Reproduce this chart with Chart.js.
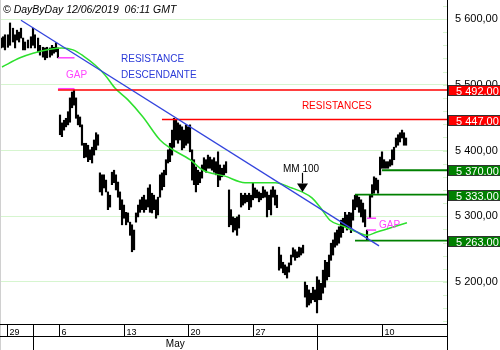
<!DOCTYPE html>
<html>
<head>
<meta charset="utf-8">
<script src="https://cdn.jsdelivr.net/npm/chart.js@4.4.1/dist/chart.umd.min.js"></script>
<style>
  html, body { margin: 0; padding: 0; background: #fff; }
  #wrap { width: 500px; height: 350px; position: relative; }
</style>
</head>
<body>
<div id="wrap"><canvas id="chartCac"></canvas></div>
<script>
// time axis: trading days since Mon 29 Apr 2019 (0 = 29 Apr open)
var barT = [
  -0.49,-0.33,-0.18,0.05,0.21,0.44,0.60,0.75,0.91,1.06,1.22,1.37,1.60,1.83,1.99,2.14,2.38,2.53,2.76,2.92,3.07,3.30,3.46,3.61,3.77,3.92,
  4.08,4.23,4.39,4.54,4.70,4.85,5.01,5.16,5.32,5.47,5.63,5.78,5.94,6.09,6.25,6.40,6.56,6.71,6.87,7.02,
  7.17,7.33,7.48,7.64,7.79,7.95,8.10,8.26,8.41,8.57,8.72,8.88,9.03,9.19,9.34,9.50,9.65,9.81,9.96,10.12,10.27,10.43,10.58,10.74,10.89,11.04,11.20,11.35,11.51,11.66,11.82,11.97,12.13,12.28,12.44,12.59,12.75,12.90,13.06,13.21,13.37,13.52,13.68,13.83,13.99,14.14,14.30,14.45,14.60,14.76,14.91,15.07,15.22,15.38,15.53,15.69,15.84,16.00,16.15,16.31,16.46,16.62,16.77,16.93,
  17.16,17.31,17.47,17.62,17.78,17.93,18.09,18.24,18.40,18.55,18.71,18.86,19.01,19.17,19.32,19.48,19.63,19.79,19.94,20.10,20.25,20.41,20.56,20.72,20.87,
  21.03,21.18,21.34,21.49,21.65,21.80,21.96,22.11,22.27,22.42,22.58,22.73,22.89,
  23.04,23.19,23.35,23.50,23.66,23.81,23.97,24.12,24.28,24.43,24.59,24.74,24.90,25.05,25.21,25.36,25.52,25.67,25.83,25.98,26.14,26.29,26.45,26.60,26.76,26.91,27.07,27.22,27.38,27.53,27.69,27.84,
  28.07,28.23,28.38,28.54,28.69,28.85,29.00,29.16,29.31,29.47,29.62,29.78,29.93,30.08,30.24,30.39,30.55,30.70,30.86
];
var barHigh = [
  5571,5573,5576,5576,5594,5586,5576,5583,5580,5586,5571,5565,5568,5573,5586,5576,5571,5560,5557,5556,5557,5556,5560,5557,5564,5556,
  5454,5442,5446,5449,5459,5480,5489,5492,5480,5454,5451,5439,5411,5411,5408,5401,5405,5416,5427,5424,
  5366,5363,5363,5355,5337,5332,5367,5370,5363,5352,5337,5325,5317,5306,5305,5291,5287,5279,5305,5317,5325,5329,5332,5325,5343,5348,5335,5332,5325,5329,5363,5366,5370,5386,5401,5411,5431,5449,5446,5442,5439,5436,5431,5439,5436,5439,5401,5386,5375,5370,5367,5378,5389,5386,5393,5390,5386,5389,5383,5398,5378,5373,5378,5383,
  5340,5310,5299,5297,5299,5302,5335,5332,5335,5332,5335,5332,5351,5343,5340,5337,5335,5345,5340,5337,5332,5340,5345,5340,5332,
  5253,5241,5230,5226,5223,5229,5241,5252,5249,5246,5253,5252,5256,
  5200,5195,5188,5183,5192,5188,5208,5203,5198,5218,5233,5230,5241,5259,5264,5275,5279,5284,5294,5297,5306,5302,5306,5305,5325,5332,5332,5329,5325,5320,5310,5279,
  5332,5348,5360,5358,5355,5390,5398,5386,5383,5383,5386,5401,5405,5419,5424,5427,5431,5427,5419
];
var barLow = [
  5556,5557,5553,5557,5560,5565,5556,5568,5565,5571,5553,5553,5556,5556,5560,5556,5550,5545,5542,5538,5541,5542,5545,5548,5550,5541,
  5424,5421,5431,5436,5439,5443,5465,5469,5449,5439,5436,5408,5389,5390,5383,5386,5381,5393,5401,5408,
  5337,5332,5343,5337,5310,5314,5348,5351,5340,5329,5310,5287,5297,5287,5291,5271,5246,5249,5291,5299,5306,5310,5306,5310,5314,5306,5305,5310,5297,5302,5329,5340,5345,5363,5381,5383,5393,5405,5416,5411,5416,5401,5404,5408,5411,5398,5355,5348,5337,5348,5351,5358,5370,5367,5373,5373,5370,5367,5363,5345,5355,5360,5363,5366,
  5284,5287,5276,5279,5271,5282,5314,5317,5320,5322,5310,5314,5325,5328,5328,5322,5325,5328,5329,5299,5310,5302,5329,5317,5313,
  5218,5221,5214,5211,5206,5215,5226,5238,5233,5237,5238,5241,5244,
  5177,5162,5165,5168,5173,5170,5153,5173,5173,5183,5192,5203,5208,5233,5241,5253,5256,5259,5268,5275,5284,5279,5282,5275,5294,5310,5314,5306,5299,5291,5284,5264,
  5297,5329,5335,5340,5335,5363,5373,5373,5373,5373,5376,5378,5386,5405,5408,5413,5419,5408,5408
];

// MM 100
var maT   = [-0.41,0.98,1.99,3.30,4.23,5.09,5.87,6.79,7.56,8.33,9.34,10.50,11.82,12.59,14.14,15.15,16.85,18.40,20.72,22.03,22.81,23.58,24.20,24.97,25.98,27.07,27.84,28.61,29.62,30.93];
var maVal = [5527,5541,5548,5554,5556,5553,5544,5530,5515,5495,5477,5451,5416,5404,5386,5370,5361,5351,5351,5343,5337,5328,5314,5294,5285,5276,5271,5276,5282,5290];

var trendT = [1.06, 28.77];
var trendVal = [5598, 5255];

var resistLevels = [5492, 5447];
var resistFrom = [3.92, 11.97];
var supportLevels = [5370, 5333, 5263];
var supportFrom = [29.00, 26.91, 26.91];

var gapLevels1 = [5541, 5494];
var gapT1 = [3.93, 5.20];
var gapLevels2 = [5297, 5279];
var gapT2 = [27.84, 28.54];

var yTicks = [5200, 5300, 5400, 5500, 5600];
var weekStarts = [0, 4, 9, 14, 19, 24, 29];
var weekLabels = ['29', '6', '13', '20', '27', '', '10'];
var monthStarts = [2, 24];
var monthLabels = ['May'];

var X_MIN = -0.565, X_MAX = 34.03;
var Y_MIN = 5134.6, Y_MAX = 5628.9;

function fmt(v, dec) {
    var s = v.toFixed(2).split('.');
    return s[0].replace(/\B(?=(\d{3})+(?!\d))/g, ' ') + dec + s[1];
}

function seg(t0, t1, v) {
    return [{ x: t0, y: v }, { x: t1, y: v }];
}

function lineSet(data, color, width) {
    return {
        type: 'line', data: data, borderColor: color, borderWidth: width || 1.5,
        pointRadius: 0, fill: false, order: 1
    };
}

var datasets = [];
datasets.push(lineSet(trendT.map(function(t, i) { return { x: t, y: trendVal[i] }; }), '#3344dd', 1.3));
resistLevels.forEach(function(v, i) { datasets.push(lineSet(seg(resistFrom[i], X_MAX, v), '#ff0000', 1.5)); });
supportLevels.forEach(function(v, i) { datasets.push(lineSet(seg(supportFrom[i], X_MAX, v), '#008000', 1.8)); });
gapLevels1.forEach(function(v) { datasets.push(lineSet(seg(gapT1[0], gapT1[1], v), '#ff44ff', 1.5)); });
gapLevels2.forEach(function(v) { datasets.push(lineSet(seg(gapT2[0], gapT2[1], v), '#ff44ff', 1.5)); });
var ma = lineSet(maT.map(function(t, i) { return { x: t, y: maVal[i] }; }), '#2ee02e', 1.5);
ma.cubicInterpolationMode = 'monotone';
ma.order = 2;
datasets.push(ma);
datasets.push({
    type: 'bar',
    data: barT.map(function(t, i) { return { x: t, y: [barLow[i], barHigh[i]] }; }),
    backgroundColor: '#000',
    barThickness: 1.5,
    order: 10
});

var FONT = '"Liberation Sans", Arial, sans-serif';

var decor = {
    id: 'decor',
    beforeDraw: function(chart) {
        var ctx = chart.ctx;
        ctx.save();
        ctx.fillStyle = '#fff';
        ctx.fillRect(0, 0, chart.width, chart.height);
        ctx.restore();
    },
    afterDraw: function(chart) {
        var ctx = chart.ctx, a = chart.chartArea;
        var xs = chart.scales.x, ys = chart.scales.y;
        var px = function(t) { return xs.getPixelForValue(t); };
        var py = function(v) { return ys.getPixelForValue(v); };
        ctx.save();

        // minor ticks on the price axis
        ctx.strokeStyle = '#d6f5cf';
        ctx.lineWidth = 1;
        for (var v = 5140; v <= 5620; v += 20) {
            var yy = Math.round(py(v)) + 0.5;
            ctx.beginPath(); ctx.moveTo(a.right - 4, yy); ctx.lineTo(a.right, yy); ctx.stroke();
        }

        // left border
        ctx.strokeStyle = '#d0d0d0';
        ctx.beginPath(); ctx.moveTo(0.5, 0); ctx.lineTo(0.5, 350); ctx.stroke();

        // date strip
        ctx.strokeStyle = '#000';
        var yb = Math.round(a.bottom) - 0.5, ym = yb + 12;
        ctx.beginPath();
        ctx.moveTo(0, yb); ctx.lineTo(a.right, yb);
        ctx.moveTo(0, ym); ctx.lineTo(a.right, ym);
        ctx.moveTo(Math.round(a.right) + 0.5, 0); ctx.lineTo(Math.round(a.right) + 0.5, 350);
        ctx.stroke();
        ctx.fillStyle = '#000';
        ctx.font = '9px ' + FONT;
        ctx.textAlign = 'left';
        weekStarts.forEach(function(t, i) {
            var x = Math.round(px(t)) + 0.5;
            ctx.beginPath(); ctx.moveTo(x, yb); ctx.lineTo(x, ym); ctx.stroke();
            if (weekLabels[i]) ctx.fillText(weekLabels[i], x + 2, yb + 10);
        });
        monthStarts.forEach(function(t) {
            var x = Math.round(px(t)) + 0.5;
            ctx.beginPath(); ctx.moveTo(x, yb); ctx.lineTo(x, 350); ctx.stroke();
        });
        ctx.font = '10px ' + FONT;
        ctx.textAlign = 'center';
        ctx.fillText(monthLabels[0], (px(monthStarts[0]) + px(monthStarts[1])) / 2, ym + 10);

        // level boxes on the price axis
        ctx.textAlign = 'left';
        ctx.font = '11px ' + FONT;
        function box(v, color) {
            var y = Math.round(py(v));
            ctx.fillStyle = color;
            ctx.fillRect(a.right + 1, y - 5, 53, 11);
            ctx.strokeStyle = '#333';
            ctx.strokeRect(a.right + 1.5, y - 4.5, 53, 10);
            ctx.fillStyle = '#fff';
            ctx.fillText(fmt(v, '.'), a.right + 9, y + 4.5);
        }
        resistLevels.forEach(function(v) { box(v, '#ff0000'); });
        supportLevels.forEach(function(v) { box(v, '#008000'); });

        // annotations
        ctx.font = '10px ' + FONT;
        ctx.fillStyle = '#2b3bd8';
        ctx.fillText('RESISTANCE', px(8.80), py(5535));
        ctx.fillText('DESCENDANTE', px(8.80), py(5510));
        ctx.fillStyle = '#ff0000';
        ctx.fillText('RESISTANCES', px(22.80), py(5463));
        ctx.fillStyle = '#ff44ff';
        ctx.fillText('GAP', px(4.54), py(5510));
        ctx.fillText('GAP', px(28.77), py(5282));
        ctx.fillStyle = '#000';
        ctx.fillText('MM 100', px(21.34), py(5367));
        var ax = Math.round(px(22.81)) + 0.5;
        ctx.strokeStyle = '#000';
        ctx.lineWidth = 1.2;
        ctx.beginPath(); ctx.moveTo(ax, py(5366)); ctx.lineTo(ax, py(5350)); ctx.stroke();
        ctx.beginPath();
        ctx.moveTo(ax - 5.5, py(5350)); ctx.lineTo(ax + 5.5, py(5350)); ctx.lineTo(ax, py(5337));
        ctx.closePath(); ctx.fill();

        // header
        ctx.font = 'italic 10.5px ' + FONT;
        ctx.fillText('\u00a9 DayByDay 12/06/2019  06:11 GMT', 3, 13);
        ctx.restore();
    }
};

new Chart(document.getElementById('chartCac'), {
    type: 'bar',
    data: { datasets: datasets },
    plugins: [decor],
    options: {
        responsive: true,
        maintainAspectRatio: false,
        animation: false,
        layout: { padding: { top: 0, left: 0, right: 0, bottom: 25 } },
        plugins: { legend: { display: false }, tooltip: { enabled: false } },
        scales: {
            x: { type: 'linear', display: false, min: X_MIN, max: X_MAX, offset: false },
            y: {
                position: 'right',
                min: Y_MIN,
                max: Y_MAX,
                afterBuildTicks: function(s) { s.ticks = yTicks.map(function(v) { return { value: v }; }); },
                afterFit: function(s) {
                    s.width = 53;
                    // labels sit well inside the plot, so no extra room above/below
                    s.paddingTop = 0;
                    s.paddingBottom = 0;
                },
                ticks: {
                    color: '#000',
                    padding: 8,
                    font: { family: FONT, size: 11 },
                    callback: function(v) { return fmt(v, ','); }
                },
                grid: { color: '#d6f5cf', drawTicks: false },
                border: { color: '#000', width: 1 }
            }
        }
    }
});
</script>
</body>
</html>
